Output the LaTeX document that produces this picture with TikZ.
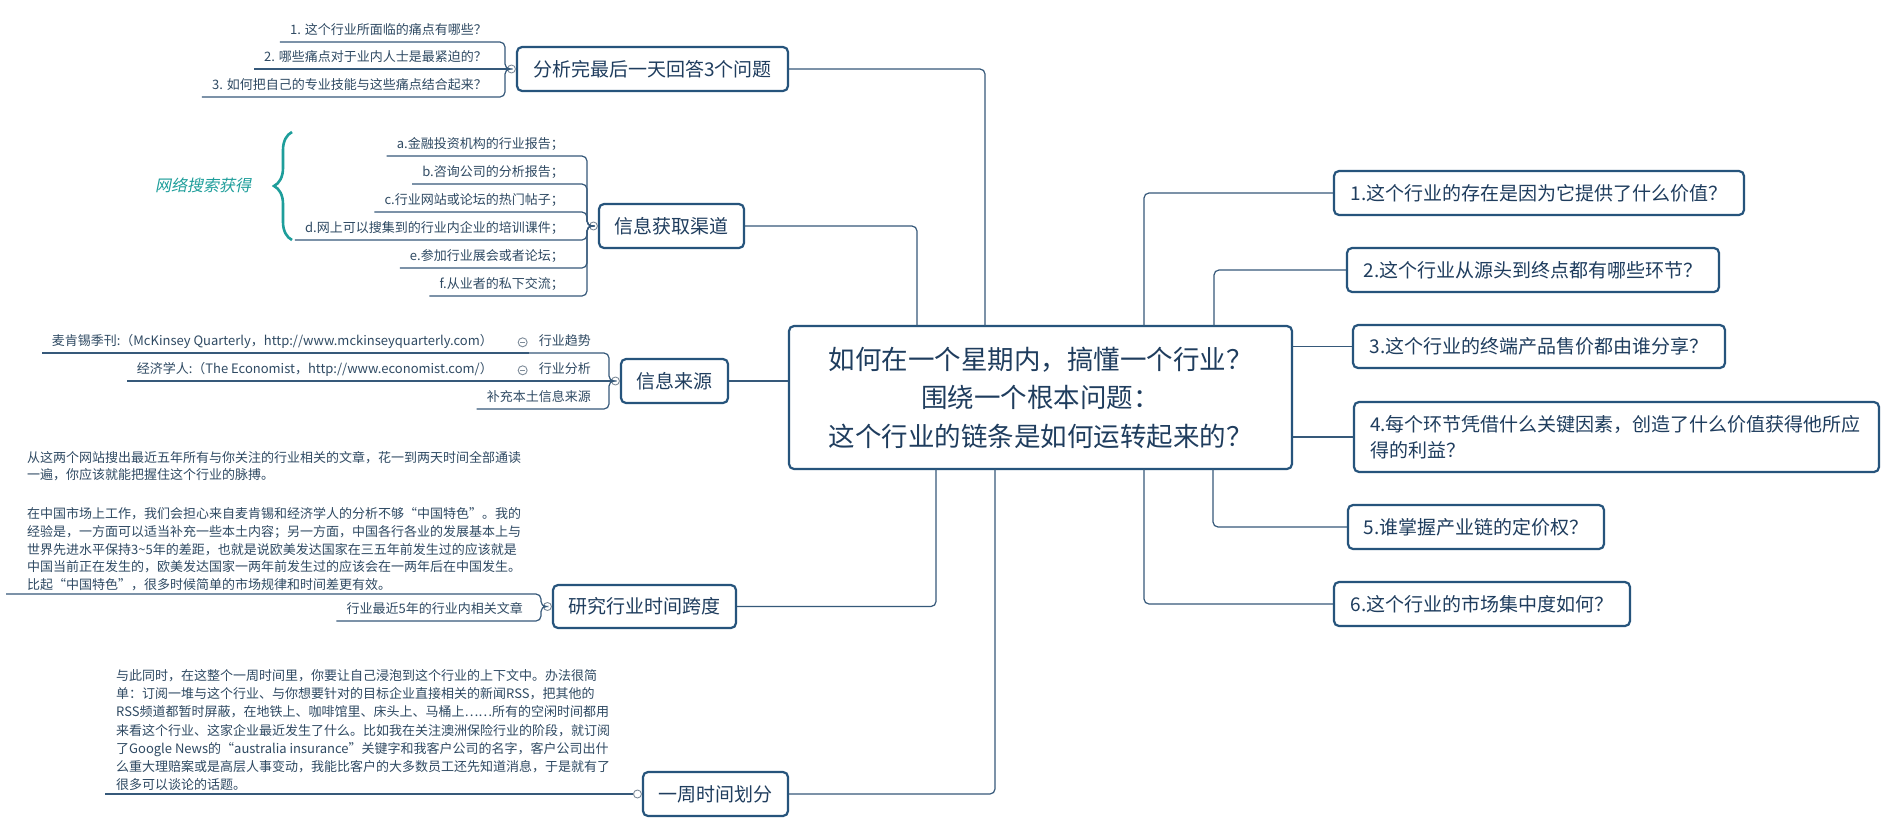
\documentclass[tikz,border=0pt]{standalone}
\usepackage{fontspec}
\setmainfont{Noto Sans CJK SC}
\newfontfamily\slantfont{Noto Sans CJK SC}[FakeSlant=0.2]
\usetikzlibrary{positioning,decorations.pathreplacing}
\definecolor{Border}{HTML}{26547C}
\definecolor{Ink}{HTML}{1F3D5E}
\definecolor{Leaf}{HTML}{2F4A63}
\definecolor{Link}{HTML}{36597A}
\definecolor{Knob}{HTML}{7D8B99}
\definecolor{Teal}{HTML}{1E9E9B}

\begin{document}
\begin{tikzpicture}[x=1pt,y=-1pt,
 topic/.style={draw=Border,line width=2.2pt,rounded corners=5pt,fill=white,text=Ink,font=\fontsize{19}{24}\selectfont,align=center,minimum height=44pt,inner sep=0pt},
 leaf/.style={anchor=south east,text=Leaf,font=\fontsize{13}{17}\selectfont,inner xsep=10pt,inner ysep=4pt,text height=10pt,text depth=3pt},
 note/.style={anchor=south west,text=Leaf,align=left,inner ysep=3pt},
 knob/.style={circle,draw=Knob,fill=white,line width=0.9pt,minimum size=8pt,inner sep=0pt},
 mknob/.style={knob,minimum size=9pt,path picture={\draw[Knob,line width=0.8pt] ([xshift=2pt]path picture bounding box.west) -- ([xshift=-2pt]path picture bounding box.east);}},
 link/.style={draw=Link,line width=1.2pt,rounded corners=5pt}]
 \useasboundingbox (0,0) rectangle (1892,833);
 \fill[white] (0,0) rectangle (1892,833);
 % central topic
 \node[topic,font=\fontsize{26.5}{38.5}\selectfont,minimum width=503pt,minimum height=143pt] (hub) at (1040.5,397.5) {如何在一个星期内，搞懂一个行业？\\围绕一个根本问题：\\这个行业的链条是如何运转起来的？};
 % right topics
 \node[topic,minimum width=410pt] (r1) at (1539,193) {1.这个行业的存在是因为它提供了什么价值？};
 \node[topic,minimum width=372pt] (r2) at (1533,270) {2.这个行业从源头到终点都有哪些环节？};
 \node[topic,minimum width=372pt,minimum height=43pt] (r3) at (1539,346.5) {3.这个行业的终端产品售价都由谁分享？};
 \node[topic,font=\fontsize{19}{26}\selectfont,minimum width=525pt,minimum height=70pt,align=left,text width=493pt] (r4) at (1616.5,437) {4.每个环节凭借什么关键因素，创造了什么价值获得他所应\\得的利益？};
 \node[topic,minimum width=256pt] (r5) at (1476,527) {5.谁掌握产业链的定价权？};
 \node[topic,minimum width=296pt] (r6) at (1482,604) {6.这个行业的市场集中度如何？};
 % left topics
 \node[topic,minimum width=271pt] (q1) at (652.5,69) {分析完最后一天回答3个问题};
 \node[topic,minimum width=145pt] (ch) at (671.5,226) {信息获取渠道};
 \node[topic,minimum width=107pt] (src) at (674.5,381) {信息来源};
 \node[topic,minimum width=183pt,minimum height=43pt] (span) at (644.5,606.5) {研究行业时间跨度};
 \node[topic,minimum width=145pt] (week) at (715.5,794) {一周时间划分};
 \node[knob,left=0pt of q1] (q1k) {}; \coordinate[left=2pt of q1k] (q1s);
 \node[knob,left=0pt of ch] (chk) {}; \coordinate[left=2pt of chk] (chs);
 \node[knob,left=0pt of src] (srck) {}; \coordinate[left=2pt of srck] (srcs);
 \node[knob,left=0pt of span] (spank) {}; \coordinate[left=2pt of spank] (spans);
 \node[knob,left=0pt of week] (weekk) {};
 % leaves
 \node[leaf] (p1) at (497,42) {1. 这个行业所面临的痛点有哪些？};
 \node[leaf] (p2) at (497,69) {2. 哪些痛点对于业内人士是最紧迫的？};
 \node[leaf] (p3) at (497,97) {3. 如何把自己的专业技能与这些痛点结合起来？};
 \node[leaf] (ca) at (574,156) {a.金融投资机构的行业报告；};
 \node[leaf] (cb) at (574,184) {b.咨询公司的分析报告；};
 \node[leaf] (cc) at (574,212) {c.行业网站或论坛的热门帖子；};
 \node[leaf] (cd) at (574,240) {d.网上可以搜集到的行业内企业的培训课件；};
 \node[leaf] (ce) at (574,268) {e.参加行业展会或者论坛；};
 \node[leaf] (cf) at (574,296) {f.从业者的私下交流；};
 \node[leaf] (trend) at (601,353) {行业趋势};
 \node[leaf] (anal) at (601,381) {行业分析};
 \node[leaf] (local) at (601,409) {补充本土信息来源};
 \node[leaf] (mck) at (503,353) {麦肯锡季刊:（McKinsey Quarterly，http://www.mckinseyquarterly.com）};
 \node[leaf] (eco) at (503,381) {经济学人:（The Economist，http://www.economist.com/）};
 \node[mknob,left=1pt of trend] (trendk) {};
 \node[mknob,left=1pt of anal] (analk) {};
 \node[leaf] (lead) at (533,621) {行业最近5年的行业内相关文章};
 \node[note,font=\fontsize{13}{17.7}\selectfont,inner xsep=21pt] (spannote) at (6,594) {从这两个网站搜出最近五年所有与你关注的行业相关的文章，花一到两天时间全部通读\\一遍，你应该就能把握住这个行业的脉搏。\\[21pt]在中国市场上工作，我们会担心来自麦肯锡和经济学人的分析不够“中国特色”。我的\\经验是，一方面可以适当补充一些本土内容；另一方面，中国各行各业的发展基本上与\\世界先进水平保持3\textasciitilde5年的差距，也就是说欧美发达国家在三五年前发生过的应该就是\\中国当前正在发生的，欧美发达国家一两年前发生过的应该会在一两年后在中国发生。\\比起“中国特色”，很多时候简单的市场规律和时间差更有效。};
 \node[note,font=\fontsize{13}{18.2}\selectfont,inner xsep=11pt] (weeknote) at (105,794) {与此同时，在这整个一周时间里，你要让自己浸泡到这个行业的上下文中。办法很简\\单：订阅一堆与这个行业、与你想要针对的目标企业直接相关的新闻RSS，把其他的\\RSS频道都暂时屏蔽，在地铁上、咖啡馆里、床头上、马桶上……所有的空闲时间都用\\来看这个行业、这家企业最近发生了什么。比如我在关注澳洲保险行业的阶段，就订阅\\了Google News的“australia insurance”关键字和我客户公司的名字，客户公司出什\\么重大理赔案或是高层人事变动，我能比客户的大多数员工还先知道消息，于是就有了\\很多可以谈论的话题。};
 % brace over a-d
 \draw[Teal,line width=2.6pt,decorate,decoration={brace,amplitude=18pt}] (292,240) -- (292,132);
 \node[text=Teal,font=\slantfont\fontsize{16}{18}\selectfont] (websrc) at (203,185) {网络搜索获得};
 % joints on the hub
 \coordinate (jq1) at (985,326); \coordinate (jch) at (917,326);
 \coordinate (jspan) at (936,469); \coordinate (jweek) at (995,469);
 \coordinate (jr1) at (1144,326); \coordinate (jr2) at (1214,326);
 \coordinate (jr5) at (1213,469); \coordinate (jr6) at (1144,469);
 % hub links
 \draw[link] (q1.east) -| (jq1); \draw[link] (ch.east) -| (jch);
 \draw[link] (src.east) -- (src.east -| hub.west);
 \draw[link] (span.east) -| (jspan); \draw[link] (week.east) -| (jweek);
 \draw[link] (jr1) |- (r1.west); \draw[link] (jr2) |- (r2.west);
 \draw[link] (hub.east |- r3.west) -- (r3.west);
 \draw[link] (hub.east |- r4.west) -- (r4.west);
 \draw[link] (jr5) |- (r5.west); \draw[link] (jr6) |- (r6.west);
 % leaf links
 \draw[link] (q1k.west) -- (q1s) |- (p1.south west);
 \draw[link] (q1k.west) -- (p2.south west);
 \draw[link] (q1k.west) -- (q1s) |- (p3.south west);
 \draw[link] (chk.west) -- (chs) |- (ca.south west); \draw[link] (chk.west) -- (chs) |- (cb.south west);
 \draw[link] (chk.west) -- (chs) |- (cc.south west); \draw[link] (chk.west) -- (chs) |- (cd.south west);
 \draw[link] (chk.west) -- (chs) |- (ce.south west); \draw[link] (chk.west) -- (chs) |- (cf.south west);
 \draw[link] (srck.west) -- (srcs) |- (trend.south west);
 \draw[link] (srck.west) -- (anal.south west);
 \draw[link] (srck.west) -- (srcs) |- (local.south west);
 \draw[link] (trend.south west) -- (mck.south west);
 \draw[link] (anal.south west) -- (eco.south west);
 \draw[link] (spank.west) -- (spans) |- (spannote.south west);
 \draw[link] (spank.west) -- (spans) |- (lead.south west);
 \draw[link] (weekk.west) -- (weeknote.south west);
\end{tikzpicture}
\end{document}
